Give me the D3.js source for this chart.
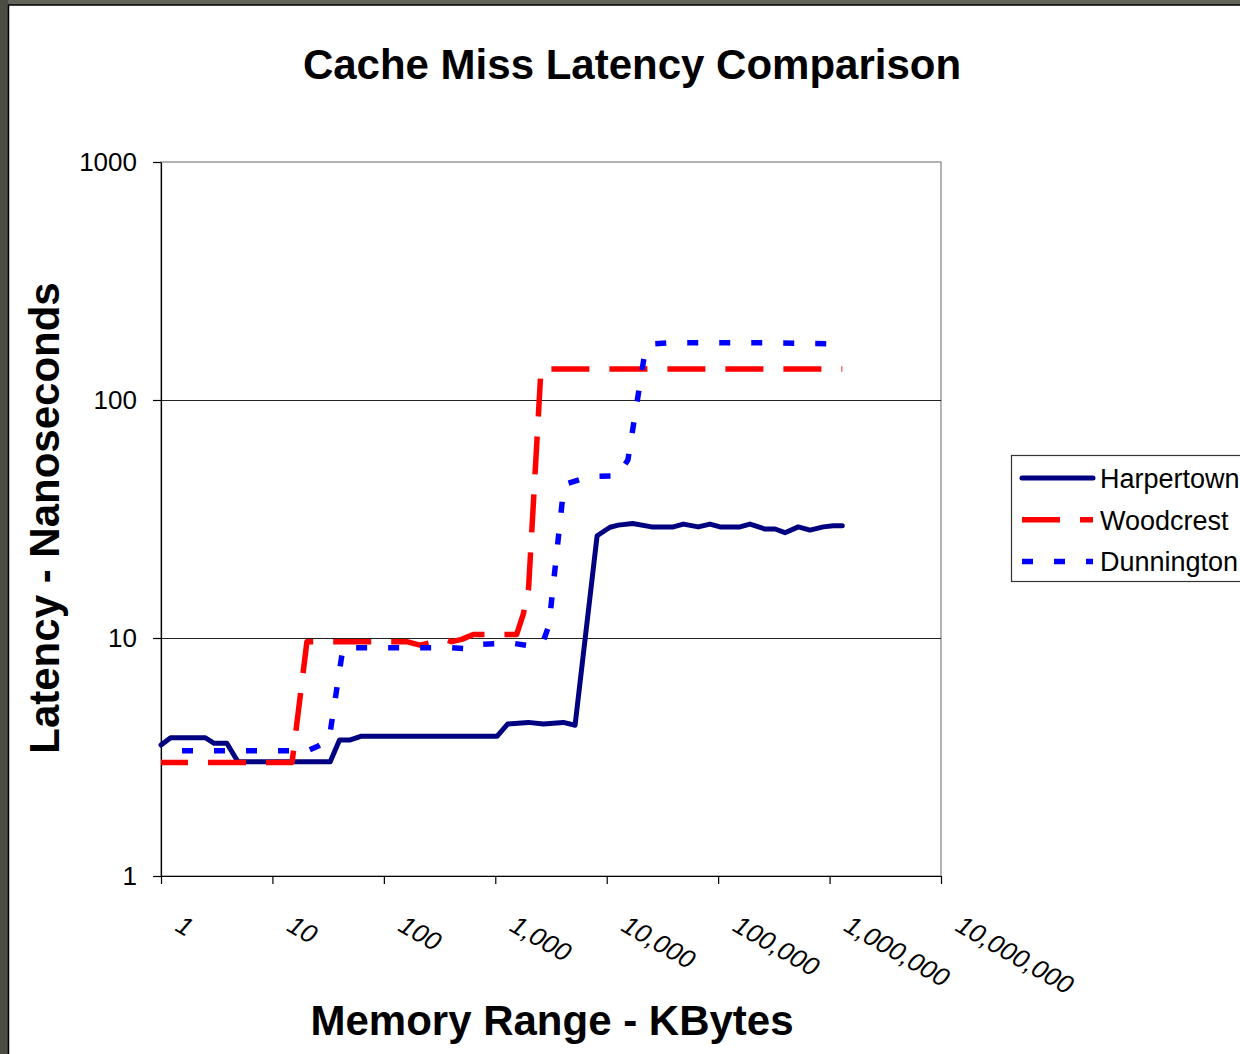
<html>
    <head>
        <script src="https://d3js.org/d3.v7.min.js" charset="utf-8"></script>
    </head>

    <style>
        body{
            margin:0;
            background:#ffffff;
        }
        text{
            font-family: "Liberation Sans", Arial, sans-serif;
        }
    </style>

    <body>
        <div id='graph'></div>
    </body>
    <script>
        // series values (x = KBytes, y = ns)
        const harpertownKB = [1, 1.22, 2.5, 3, 3.9, 4.9, 33, 40, 50, 63, 1040, 1290, 1980, 2700, 4080, 5200, 8200, 10700, 12700, 17100, 25300, 39600, 48700, 66300, 84500, 104000, 157000, 193000, 263000, 324000, 398000, 524000, 667000, 878000, 1080000, 1300000];
        const harpertownNs = [3.55, 3.81, 3.81, 3.61, 3.61, 3.02, 3.02, 3.73, 3.73, 3.87, 3.87, 4.35, 4.42, 4.35, 4.42, 4.3, 26.9, 29.2, 29.8, 30.3, 29.3, 29.3, 30.1, 29.3, 30.1, 29.3, 29.3, 30.1, 28.7, 28.7, 27.7, 29.3, 28.4, 29.3, 29.6, 29.6];

        const woodcrestKB = [1, 15, 20.4, 160, 211, 354, 406, 500, 635, 1556, 1784, 1986, 2572, 1300000];
        const woodcrestNs = [3.0, 3.0, 9.65, 9.65, 9.34, 9.87, 9.65, 9.87, 10.35, 10.35, 12.6, 16, 135, 135];

        const dunningtonKB = [1, 20.8, 25.8, 32.2, 43, 392, 606, 760, 1172, 1442, 2271, 2697, 3030, 4050, 4310, 7080, 12400, 15500, 21600, 25000, 37000, 300000, 1350000];
        const dunningtonNs = [3.36, 3.36, 3.52, 3.73, 9.1, 9.1, 9.0, 9.4, 9.5, 9.5, 9.2, 9.7, 11.3, 40, 44.4, 47.7, 48, 56, 150, 172, 174, 174, 172];

        const seriesNames = ['Harpertown', 'Woodcrest', 'Dunnington'];
        const xTickVals = [1, 10, 100, 1000, 10000, 100000, 1000000, 10000000];
        const xTickLabels = ['1', '10', '100', '1,000', '10,000', '100,000', '1,000,000', '10,000,000'];
        const yTickVals = [1, 10, 100, 1000];
        const yGridVals = [10, 100];

        const w = 1240;
        const h = 1054;
        const plotLeft = 161, plotRight = 941, plotTop = 162, plotBottom = 876;

        const series = [
            {name: seriesNames[0], kb: harpertownKB, ns: harpertownNs, color: '#000080', dash: null, offset: 0, cap: 'round', width: 5},
            {name: seriesNames[1], kb: woodcrestKB, ns: woodcrestNs, color: '#ff0000', dash: '38,20', offset: 11, cap: 'butt', width: 5.5},
            {name: seriesNames[2], kb: dunningtonKB, ns: dunningtonNs, color: '#0000ff', dash: '11,21', offset: 11, cap: 'butt', width: 5.5}
        ];

        const xScale = d3.scaleLog().domain([1, 10000000]).range([plotLeft, plotRight]);
        const yScale = d3.scaleLog().domain([1, 1000]).range([plotBottom, plotTop]);

        const svg = d3.select('#graph')
                    .append('svg')
                    .attr('width', w)
                    .attr('height', h);

        // slide frame round the chart
        svg.append('rect').attr('x', 0).attr('y', 0).attr('width', w).attr('height', 5).attr('fill', '#62645a');
        svg.append('rect').attr('x', 0).attr('y', 0).attr('width', 8).attr('height', h).attr('fill', '#4b4c44');
        svg.append('line').attr('x1', 8.5).attr('x2', 8.5).attr('y1', 5).attr('y2', h).attr('stroke', '#000').attr('stroke-width', 1.5);
        svg.append('line').attr('x1', 8).attr('x2', w).attr('y1', 5).attr('y2', 5).attr('stroke', '#000').attr('stroke-width', 1.5);

        // plot border
        svg.append('rect')
           .attr('x', plotLeft).attr('y', plotTop)
           .attr('width', plotRight - plotLeft).attr('height', plotBottom - plotTop)
           .attr('fill', 'none')
           .attr('stroke', '#808080')
           .attr('stroke-width', 1.2);

        svg.selectAll('.grid')
           .data(yGridVals)
           .enter()
           .append('line')
           .attr('class', 'grid')
           .attr('x1', plotLeft).attr('x2', plotRight)
           .attr('y1', d => Math.round(yScale(d)) + 0.5).attr('y2', d => Math.round(yScale(d)) + 0.5)
           .attr('stroke', '#222')
           .attr('stroke-width', 1);

        const xAxis = d3.axisBottom(xScale)
                        .tickValues(xTickVals)
                        .tickSize(8)
                        .tickSizeOuter(0)
                        .tickFormat('');

        const yAxis = d3.axisLeft(yScale)
                        .tickValues(yTickVals)
                        .tickSize(8)
                        .tickSizeOuter(0)
                        .tickPadding(16)
                        .tickFormat(d3.format('d'));

        const gx = svg.append('g')
           .attr('transform', 'translate(0,' + plotBottom + ')')
           .call(xAxis);

        const gy = svg.append('g')
           .attr('transform', 'translate(' + plotLeft + ',0)')
           .call(yAxis);

        svg.selectAll('.domain').attr('stroke', '#000').attr('stroke-width', 1.2);
        svg.selectAll('.tick line').attr('stroke', '#000').attr('stroke-width', 1.2);
        gy.selectAll('text')
          .attr('font-size', 26)
          .attr('fill', '#000')
          .attr('font-family', '"Liberation Sans", Arial, sans-serif');

        // slanted x labels
        svg.selectAll('.xlab')
           .data(xTickVals)
           .enter()
           .append('text')
           .attr('class', 'xlab')
           .attr('transform', d => 'translate(' + (xScale(d) + 13) + ',930) rotate(30)')
           .attr('font-size', 26)
           .attr('font-style', 'italic')
           .text((d, i) => xTickLabels[i]);

        const line = d3.line()
                       .x(d => xScale(d[0]))
                       .y(d => yScale(d[1]));

        series.forEach(function(s){
            const pts = s.kb.map((k, i) => [k, s.ns[i]]);
            svg.append('path')
               .datum(pts)
               .attr('d', line)
               .attr('fill', 'none')
               .attr('stroke', s.color)
               .attr('stroke-width', s.width)
               .attr('stroke-linecap', s.cap)
               .attr('stroke-linejoin', 'round')
               .attr('stroke-dasharray', s.dash)
               .attr('stroke-dashoffset', s.offset);
        });

        // titles
        svg.append('text')
           .attr('x', 632).attr('y', 79)
           .attr('text-anchor', 'middle')
           .attr('font-size', 42)
           .attr('font-weight', 'bold')
           .text('Cache Miss Latency Comparison');

        svg.append('text')
           .attr('x', 552).attr('y', 1035)
           .attr('text-anchor', 'middle')
           .attr('font-size', 42)
           .attr('font-weight', 'bold')
           .text('Memory Range - KBytes');

        svg.append('text')
           .attr('transform', 'translate(59,518) rotate(-90)')
           .attr('text-anchor', 'middle')
           .attr('font-size', 42)
           .attr('font-weight', 'bold')
           .text('Latency - Nanoseconds');

        // legend
        const legend = svg.append('g');
        legend.append('rect')
              .attr('x', 1011.5).attr('y', 455.5)
              .attr('width', 240).attr('height', 126)
              .attr('fill', '#fff')
              .attr('stroke', '#333')
              .attr('stroke-width', 1.2);

        series.forEach(function(s, i){
            const ly = 478 + i * 41.7;
            legend.append('line')
                  .attr('x1', 1022).attr('x2', 1093)
                  .attr('y1', ly).attr('y2', ly)
                  .attr('stroke', s.color)
                  .attr('stroke-width', s.width)
                  .attr('stroke-linecap', s.cap)
                  .attr('stroke-dasharray', s.dash);
            legend.append('text')
                  .attr('x', 1100).attr('y', ly + 10)
                  .attr('font-size', 27)
                  .text(s.name);
        });
    </script>
</html>
